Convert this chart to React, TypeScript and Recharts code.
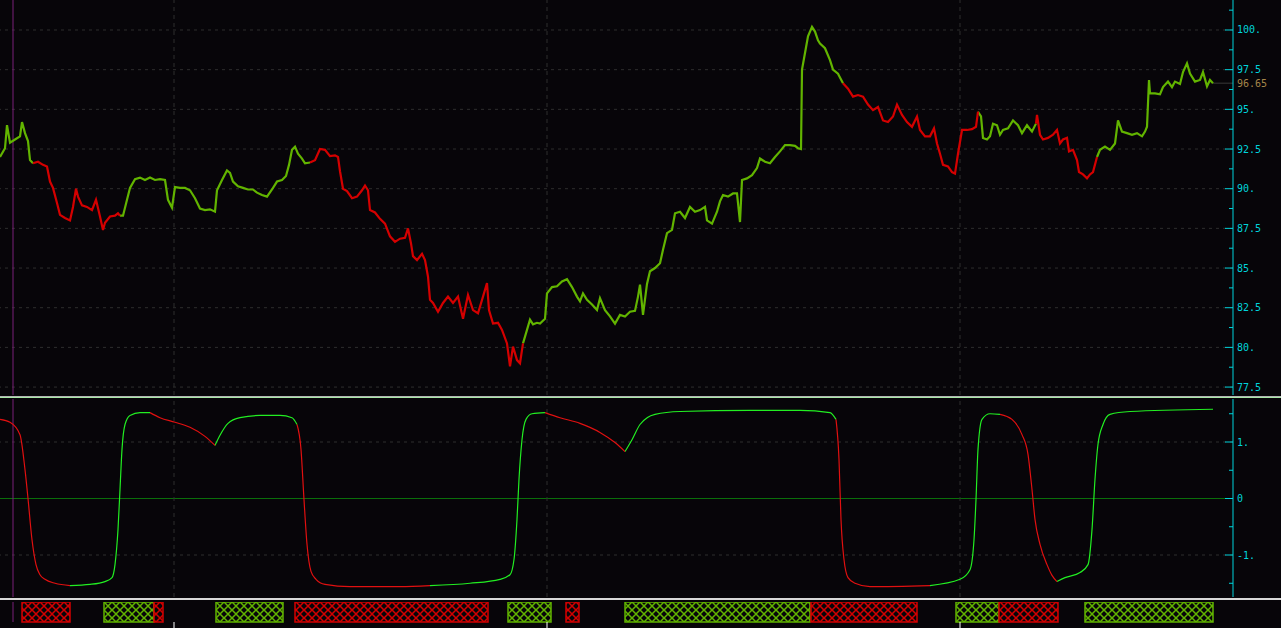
import { ComposedChart, Line, XAxis, YAxis, ReferenceLine, ReferenceArea } from 'recharts'

// price samples (bar index -> close)
const priceBars = [
  0, 5, 7, 10, 15, 20, 22, 25, 28, 30, 33, 38, 43, 47, 50, 53, 57, 60, 65, 70,
  73, 76, 78, 82, 87, 92, 96, 100, 103, 105, 110, 115, 118, 120, 123, 127, 130, 135, 140, 145,
  150, 155, 160, 165, 168, 172, 175, 180, 185, 190, 195, 200, 205, 210, 215, 217, 222, 227, 230, 233,
  238, 243, 248, 253, 257, 262, 267, 272, 277, 282, 286, 289, 292, 295, 298, 302, 305, 310, 315, 320,
  325, 330, 335, 338, 340, 343, 347, 352, 357, 362, 365, 368, 370, 375, 380, 385, 390, 395, 400, 405,
  408, 411, 413, 417, 422, 425, 428, 430, 433, 438, 443, 448, 453, 458, 463, 468, 473, 478, 483, 487,
  489, 493, 498, 502, 507, 510, 513, 517, 520, 523, 527, 530, 533, 537, 540, 545, 547, 552, 557, 562,
  567, 572, 577, 580, 583, 587, 592, 597, 600, 605, 610, 615, 620, 625, 630, 635, 638, 640, 643, 647,
  650, 655, 660, 663, 667, 672, 675, 680, 685, 690, 695, 700, 705, 707, 712, 717, 720, 723, 728, 733,
  737, 740, 742, 747, 752, 757, 760, 765, 770, 775, 780, 785, 790, 795, 798, 801, 802, 805, 808, 812,
  815, 818, 820, 825, 830, 833, 838, 843, 848, 853, 858, 863, 868, 873, 878, 883, 888, 893, 897, 902,
  907, 912, 917, 920, 925, 930, 934, 937, 940, 943, 948, 952, 955, 958, 962, 967, 972, 976, 978, 981,
  983, 987, 990, 993, 997, 1000, 1003, 1008, 1013, 1018, 1022, 1027, 1032, 1036, 1037, 1040, 1043, 1048, 1053, 1057,
  1060, 1063, 1067, 1069, 1073, 1077, 1079, 1083, 1087, 1090, 1093, 1097, 1100, 1105, 1110, 1115, 1118, 1122, 1127, 1132,
  1137, 1142, 1145, 1147, 1149, 1150, 1155, 1160, 1163, 1168, 1172, 1175, 1180, 1183, 1187, 1190, 1195, 1200, 1203, 1207,
  1210, 1213,
]
const priceClose = [
  92.0, 92.55, 94.0, 92.9, 93.1, 93.3, 94.2, 93.5, 93.0, 91.8, 91.6, 91.7, 91.5, 91.4, 90.45, 90.05, 89.1, 88.35, 88.15, 88.0,
  88.85, 90.0, 89.5, 88.95, 88.85, 88.65, 89.3, 88.25, 87.4, 87.85, 88.25, 88.3, 88.45, 88.3, 88.3, 89.3, 90.05, 90.6, 90.7, 90.55,
  90.7, 90.55, 90.6, 90.55, 89.3, 88.8, 90.1, 90.05, 90.05, 89.9, 89.4, 88.75, 88.65, 88.7, 88.55, 89.9, 90.55, 91.15, 91.0, 90.45,
  90.15, 90.05, 89.95, 89.95, 89.75, 89.6, 89.5, 89.95, 90.45, 90.55, 90.8, 91.5, 92.45, 92.65, 92.2, 91.9, 91.6, 91.65, 91.8, 92.5,
  92.45, 92.05, 92.1, 92.0, 91.1, 90.0, 89.85, 89.4, 89.5, 89.9, 90.2, 89.9, 88.65, 88.5, 88.1, 87.8, 87.0, 86.65, 86.85, 86.9,
  87.5, 86.55, 85.75, 85.5, 85.9, 85.5, 84.45, 83.0, 82.8, 82.25, 82.8, 83.2, 82.8, 83.2, 81.8, 83.3, 82.35, 82.15, 83.2, 84.05,
  82.35, 81.5, 81.55, 81.1, 80.25, 78.8, 80.05, 79.2, 79.0, 80.25, 81.1, 81.75, 81.45, 81.55, 81.5, 81.8, 83.4, 83.8, 83.85, 84.15,
  84.3, 83.8, 83.2, 82.9, 83.4, 83.0, 82.7, 82.35, 83.1, 82.35, 81.95, 81.5, 82.05, 81.95, 82.25, 82.3, 83.2, 83.95, 82.05, 84.0,
  84.8, 85.0, 85.3, 86.15, 87.2, 87.4, 88.45, 88.55, 88.15, 88.85, 88.55, 88.65, 88.85, 88.0, 87.8, 88.55, 89.2, 89.6, 89.5, 89.7,
  89.7, 87.9, 90.55, 90.65, 90.85, 91.3, 91.9, 91.7, 91.6, 92.0, 92.35, 92.75, 92.75, 92.7, 92.55, 92.5, 97.5, 98.55, 99.6, 100.2,
  99.9, 99.35, 99.15, 98.85, 98.1, 97.5, 97.25, 96.65, 96.3, 95.8, 95.9, 95.8, 95.3, 94.95, 95.15, 94.3, 94.2, 94.55, 95.3, 94.65,
  94.2, 93.9, 94.55, 93.7, 93.3, 93.3, 93.8, 92.85, 92.2, 91.5, 91.4, 91.05, 90.95, 92.2, 93.7, 93.7, 93.75, 93.9, 94.85, 94.55,
  93.2, 93.1, 93.3, 94.1, 94.0, 93.4, 93.7, 93.8, 94.3, 94.0, 93.5, 94.0, 93.6, 94.1, 94.65, 93.4, 93.1, 93.2, 93.4, 93.7,
  92.85, 93.1, 93.2, 92.35, 92.45, 91.8, 91.05, 90.9, 90.65, 90.9, 91.05, 92.0, 92.45, 92.65, 92.45, 92.85, 94.3, 93.6, 93.5, 93.4,
  93.5, 93.3, 93.6, 93.9, 96.85, 96.0, 96.0, 95.95, 96.4, 96.75, 96.4, 96.75, 96.6, 97.35, 97.9, 97.25, 96.75, 96.85, 97.35, 96.45,
  96.85, 96.65,
]
// bars where the price colour flips (starts green)
const priceFlips = [31, 120, 306, 522, 839, 977, 1036, 1094]

// oscillator samples
const oscBars = [
  0, 10, 20, 25, 28, 32, 36, 40, 45, 55, 70, 90, 105, 112, 115, 118, 120, 122, 125, 130,
  140, 150, 160, 175, 190, 205, 215, 220, 228, 240, 260, 280, 292, 297, 301, 304, 307, 311, 316, 325,
  350, 400, 430, 470, 500, 510, 514, 517, 519, 522, 526, 532, 545, 560, 580, 600, 615, 625, 632, 640,
  655, 680, 750, 800, 830, 836, 839, 841, 844, 848, 855, 870, 930, 960, 970, 974, 976, 978, 982, 990,
  1000, 1012, 1022, 1028, 1032, 1035, 1040, 1047, 1052, 1057, 1065, 1080, 1088, 1092, 1095, 1098, 1103, 1110, 1130, 1213,
]
const oscValue = [
  1.4, 1.35, 1.13, 0.51, 0.0, -0.73, -1.17, -1.35, -1.43, -1.5, -1.54, -1.52, -1.47, -1.4, -1.17, -0.55, 0.16, 0.87, 1.31, 1.47,
  1.52, 1.52, 1.43, 1.35, 1.26, 1.1, 0.94, 1.12, 1.33, 1.43, 1.47, 1.47, 1.43, 1.31, 0.87, -0.02, -0.81, -1.29, -1.43, -1.52,
  -1.56, -1.56, -1.54, -1.5, -1.43, -1.35, -1.08, -0.37, 0.34, 1.04, 1.4, 1.5, 1.52, 1.43, 1.33, 1.17, 0.99, 0.83, 1.04, 1.31,
  1.49, 1.54, 1.56, 1.56, 1.52, 1.4, 0.69, -0.37, -1.08, -1.4, -1.5, -1.56, -1.54, -1.43, -1.26, -0.73, -0.02, 0.87, 1.4, 1.5,
  1.49, 1.4, 1.13, 0.78, 0.16, -0.37, -0.81, -1.17, -1.36, -1.47, -1.4, -1.31, -1.17, -0.55, 0.34, 0.96, 1.31, 1.49, 1.54, 1.58,
]
// bars where the oscillator colour flips (starts red)
const oscFlips = [70, 150, 215, 293, 430, 545, 625, 833, 917, 995, 1057, 1200]

// trend state blocks
const bandStart = [22, 104, 154, 216, 295, 508, 566, 625, 811, 956, 999, 1085]
const bandEnd = [70, 154, 163, 283, 488, 551, 579, 810, 917, 999, 1058, 1213]
const bandUp = [false, true, false, true, false, true, false, true, false, true, false, true]

const sessionBreaks = [174, 547, 960]
const cursorBar = 13
const lastPrice = 96.65
const lastBar = 1213

const priceTicks = [
  77.5, 78.75, 80, 81.25, 82.5, 83.75, 85, 86.25, 87.5, 88.75, 90, 91.25, 92.5, 93.75, 95, 96.25,
  97.5, 98.75, 100, 101.25, 96.65,
]
const priceGrid = [77.5, 80, 82.5, 85, 87.5, 90, 92.5, 95, 97.5, 100]
const oscTicks = [-1.5, -1, -0.5, 0, 0.5, 1, 1.5]

const BG = '#070509'
const CYAN = '#00d4dc'
const UP = '#62b400'
const DOWN = '#d40000'
const OSC_UP = '#22ee22'
const OSC_DOWN = '#e01010'
const GRID = '#2e2e2e'
const PURPLE = '#7a207a'
const FONT = 'DejaVu Sans Mono'

const W = 1281
const AXIS_W = 48
const X_MAX = 1233

function isUp(bar: number, flips: number[], startUp: boolean) {
  const n = flips.filter((f) => f <= bar).length
  return n % 2 === 0 ? startUp : !startUp
}

function split(bars: number[], vals: number[], flips: number[], startUp: boolean) {
  return bars.map((bar, i) => {
    const cur = isUp(bar, flips, startUp)
    const prev = i > 0 ? isUp(bars[i - 1], flips, startUp) : cur
    return {
      bar,
      up: cur || prev ? vals[i] : null,
      down: !cur || !prev ? vals[i] : null,
    }
  })
}

const priceRows = split(priceBars, priceClose, priceFlips, true)
const oscRows = split(oscBars, oscValue, oscFlips, false)
// one row per block; "state" just gives the y axis something to hold on to
const bandRows = bandStart.map((s, i) => ({ bar: s, state: bandUp[i] ? 1 : 0 }))

function fmt(v: number) {
  return Number.isInteger(v) && v !== 0 ? `${v}.` : `${v}`
}

function PriceTick(props: any) {
  const { x, y, payload } = props
  const v = payload.value
  const ax = x - 4
  if (v === lastPrice) {
    return (
      <text x={x} y={y} dy={3.5} fill="#a4864a" fontSize={10} fontFamily={FONT}>
        {v.toFixed(2)}
      </text>
    )
  }
  const major = Math.abs(v / 2.5 - Math.round(v / 2.5)) < 1e-6
  return (
    <g>
      <line x1={ax - (major ? 8 : 4)} x2={ax} y1={y} y2={y} stroke={CYAN} />
      {major && (
        <text x={x} y={y} dy={3.5} fill={CYAN} fontSize={10} fontFamily={FONT}>
          {fmt(v)}
        </text>
      )}
    </g>
  )
}

function OscTick(props: any) {
  const { x, y, payload } = props
  const v = payload.value
  const ax = x - 4
  const major = Number.isInteger(v)
  return (
    <g>
      <line x1={ax - (major ? 8 : 4)} x2={ax} y1={y} y2={y} stroke={CYAN} />
      {major && (
        <text x={x} y={y} dy={3.5} fill={CYAN} fontSize={10} fontFamily={FONT}>
          {fmt(v)}
        </text>
      )}
    </g>
  )
}

const NoTick = () => <g />

export default function App() {
  return (
    <div style={{ position: 'fixed', left: 0, top: 0, width: W, height: 628, background: BG, overflow: 'hidden' }}>
      <svg width={0} height={0} style={{ position: 'absolute' }}>
        <defs>
          <pattern id="hatchUp" patternUnits="userSpaceOnUse" width={8} height={8}>
            <rect width={8} height={8} fill={BG} />
            <path d="M0,0 L8,8 M8,0 L0,8" stroke={UP} strokeWidth={1.5} />
          </pattern>
          <pattern id="hatchDown" patternUnits="userSpaceOnUse" width={8} height={8}>
            <rect width={8} height={8} fill={BG} />
            <path d="M0,0 L8,8 M8,0 L0,8" stroke={DOWN} strokeWidth={1.5} />
          </pattern>
        </defs>
      </svg>

      {/* price pane */}
      <div style={{ position: 'absolute', left: 0, top: 0 }}>
        <ComposedChart width={W} height={395} data={priceRows} margin={{ top: 0, right: 0, bottom: 0, left: 0 }}>
          <XAxis dataKey="bar" type="number" domain={[0, X_MAX]} hide />
          <YAxis
            orientation="right"
            type="number"
            width={AXIS_W}
            domain={[77.0, 101.89]}
            allowDataOverflow
            ticks={priceTicks}
            interval={0}
            tickSize={0}
            tickMargin={4}
            tickLine={false}
            axisLine={{ stroke: CYAN }}
            tick={PriceTick}
          />
          {priceGrid.map((g) => (
            <ReferenceLine key={g} y={g} stroke={GRID} strokeDasharray="3 4" />
          ))}
          {sessionBreaks.map((b) => (
            <ReferenceLine key={b} x={b} stroke={GRID} strokeDasharray="4 4" />
          ))}
          <ReferenceLine x={cursorBar} stroke={PURPLE} />
          <ReferenceLine
            segment={[{ x: lastBar, y: lastPrice }, { x: X_MAX, y: lastPrice }]}
            stroke="#3a3a3a"
          />
          <Line dataKey="up" type="linear" stroke={UP} strokeWidth={2.2} dot={false} activeDot={false} isAnimationActive={false} connectNulls={false} />
          <Line dataKey="down" type="linear" stroke={DOWN} strokeWidth={2.2} dot={false} activeDot={false} isAnimationActive={false} connectNulls={false} />
        </ComposedChart>
      </div>

      <div style={{ position: 'absolute', left: 0, top: 396, width: W, height: 1, background: '#b4b4b4' }} />
      <div style={{ position: 'absolute', left: 0, top: 397, width: W, height: 1, background: '#a8e8a8' }} />

      {/* oscillator pane */}
      <div style={{ position: 'absolute', left: 0, top: 399 }}>
        <ComposedChart width={W} height={198} data={oscRows} margin={{ top: 0, right: 0, bottom: 0, left: 0 }}>
          <XAxis dataKey="bar" type="number" domain={[0, X_MAX]} hide />
          <YAxis
            orientation="right"
            type="number"
            width={AXIS_W}
            domain={[-1.743, 1.761]}
            allowDataOverflow
            ticks={oscTicks}
            interval={0}
            tickSize={0}
            tickMargin={4}
            tickLine={false}
            axisLine={{ stroke: CYAN }}
            tick={OscTick}
          />
          <ReferenceLine y={1} stroke={GRID} strokeDasharray="3 4" />
          <ReferenceLine y={-1} stroke={GRID} strokeDasharray="3 4" />
          <ReferenceLine y={0} stroke="#0a6e0a" />
          {sessionBreaks.map((b) => (
            <ReferenceLine key={b} x={b} stroke={GRID} strokeDasharray="4 4" />
          ))}
          <ReferenceLine x={cursorBar} stroke={PURPLE} />
          <Line dataKey="up" type="monotone" stroke={OSC_UP} strokeWidth={1.2} dot={false} activeDot={false} isAnimationActive={false} connectNulls={false} />
          <Line dataKey="down" type="monotone" stroke={OSC_DOWN} strokeWidth={1.2} dot={false} activeDot={false} isAnimationActive={false} connectNulls={false} />
        </ComposedChart>
      </div>

      <div style={{ position: 'absolute', left: 0, top: 598, width: W, height: 2, background: '#d8d8d8' }} />

      {/* trend blocks */}
      <div style={{ position: 'absolute', left: 0, top: 602 }}>
        <ComposedChart width={W} height={26} data={bandRows} margin={{ top: 0, right: AXIS_W, bottom: 0, left: 0 }}>
          <XAxis
            dataKey="bar"
            type="number"
            domain={[0, X_MAX]}
            ticks={sessionBreaks}
            interval={0}
            height={6}
            tickSize={6}
            axisLine={false}
            tickLine={{ stroke: '#ffffff' }}
            tick={NoTick}
          />
          <YAxis type="number" domain={[0, 1]} allowDataOverflow hide />
          <Line dataKey="state" stroke="none" dot={false} activeDot={false} isAnimationActive={false} />
          <ReferenceLine x={cursorBar} stroke={PURPLE} />
          {bandStart.map((s, i) => (
            <ReferenceArea
              key={i}
              x1={s}
              x2={bandEnd[i]}
              y1={0}
              y2={1}
              fill={bandUp[i] ? 'url(#hatchUp)' : 'url(#hatchDown)'}
              fillOpacity={1}
              stroke={bandUp[i] ? UP : DOWN}
              strokeWidth={1.5}
              ifOverflow="visible"
            />
          ))}
        </ComposedChart>
      </div>
    </div>
  )
}
